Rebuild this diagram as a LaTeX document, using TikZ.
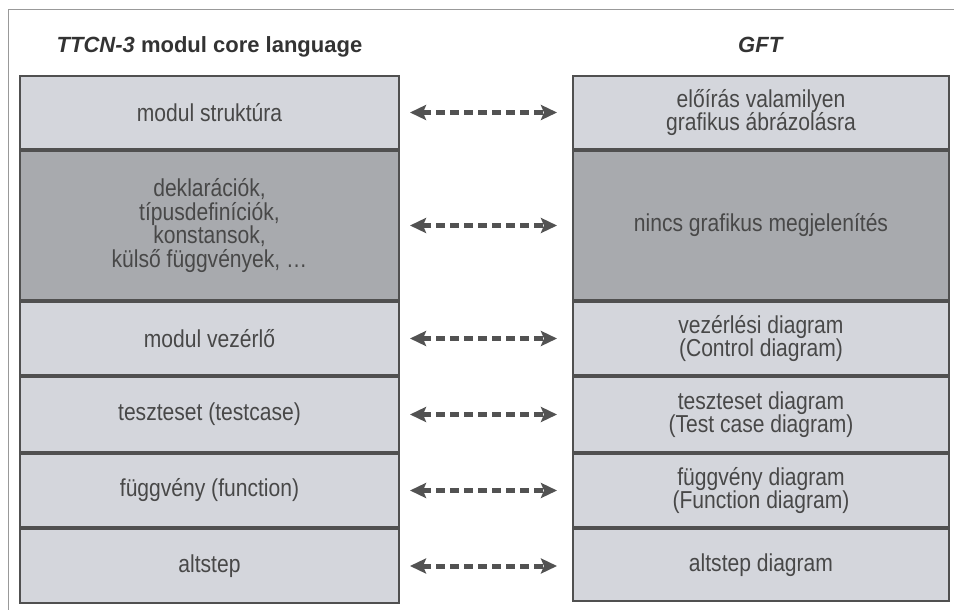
\documentclass[tikz,border=0pt]{standalone}
\usepackage{fontspec}
\setmainfont{Liberation Sans}
\newfontfamily\cellfont[FakeStretch=0.86]{Liberation Sans}
\usetikzlibrary{arrows.meta}
\definecolor{rowlight}{RGB}{212,214,220}
\definecolor{rowdark}{RGB}{168,170,174}
\definecolor{inkgray}{RGB}{72,72,72}
\definecolor{framegray}{RGB}{80,80,80}

\begin{document}
\begin{tikzpicture}[x=1pt,y=-1pt]
		\tikzstyle{every node}=[text=inkgray, font=\cellfont\fontsize{24.5}{23.5}\selectfont, align=center, inner sep=0pt]
		\tikzstyle{cell}=[rectangle, draw=framegray, line width=2pt, fill=rowlight, anchor=north west]
		\tikzstyle{ttcn}=[cell, minimum width=379pt]
		\tikzstyle{gft}=[cell, minimum width=376pt]
		\tikzstyle{dark}=[fill=rowdark]
		\tikzstyle{head}=[font=\fontsize{22}{24}\selectfont\bfseries, text=black!80, anchor=base]
		\tikzstyle{link}=[draw=black!68, line width=5pt, dash pattern=on 9pt off 5pt,
			{Stealth[length=16pt,width=15pt,inset=3pt]}-{Stealth[length=16pt,width=15pt,inset=3pt]},
			shorten <=10pt, shorten >=15pt]
		\useasboundingbox (0,0) rectangle (954,610);
		\draw[black!40, line width=1pt] (954,10) -- (8,10) -- (8,610);
		% TTCN-3 oldal
		\node[ttcn, minimum height=73pt] (L1) at (19,75) {modul struktúra};
		\node[ttcn, dark, minimum height=149pt] (L2) at (L1.south west) {deklarációk,\\típusdefiníciók,\\konstansok,\\külső függvények, …};
		\node[ttcn, minimum height=73pt] (L3) at (L2.south west) {modul vezérlő};
		\node[ttcn, minimum height=75pt] (L4) at (L3.south west) {teszteset (testcase)};
		\node[ttcn, minimum height=73pt] (L5) at (L4.south west) {függvény (function)};
		\node[ttcn, minimum height=74pt] (L6) at (L5.south west) {altstep};
		% GFT oldal
		\node[gft, minimum height=73pt] (R1) at (572,75) {előírás valamilyen\\grafikus ábrázolásra};
		\node[gft, dark, minimum height=149pt] (R2) at (R1.south west) {nincs grafikus megjelenítés};
		\node[gft, minimum height=73pt] (R3) at (R2.south west) {vezérlési diagram\\(Control diagram)};
		\node[gft, minimum height=75pt] (R4) at (R3.south west) {teszteset diagram\\(Test case diagram)};
		\node[gft, minimum height=73pt] (R5) at (R4.south west) {függvény diagram\\(Function diagram)};
		\node[gft, minimum height=72pt] (R6) at (R5.south west) {altstep diagram};
		\node[head] (ttcnhead) at ([yshift=22pt]L1.north) {\textit{TTCN-3} modul core language};
		\node[head] (gfthead) at ([yshift=22pt]R1.north) {\textit{GFT}};
		\foreach \i in {1,...,6}
			\draw[link] (L\i.east) -- (L\i.east -| R\i.west);
\end{tikzpicture}
\end{document}
